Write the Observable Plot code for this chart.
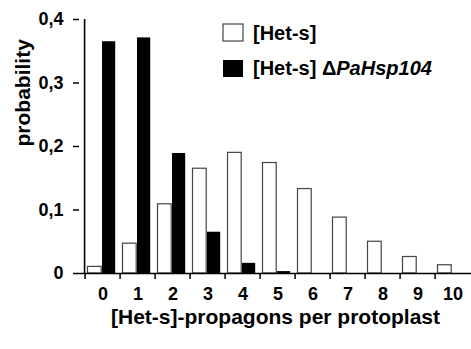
<!DOCTYPE html>
<html>
<head>
<meta charset="utf-8">
<script src="https://cdn.jsdelivr.net/npm/d3@7"></script>
<script src="https://cdn.jsdelivr.net/npm/@observablehq/plot@0.6"></script>
<style>
  html, body { margin: 0; padding: 0; background: white; }
  #chart { position: relative; width: 471px; height: 349px; }
</style>
</head>
<body>
<div id="chart"></div>
<script>
const categories = ["0","1","2","3","4","5","6","7","8","9","10"];
const hetS = [0.0104, 0.047, 0.109, 0.165, 0.190, 0.174, 0.133, 0.088, 0.050, 0.026, 0.013];
const hetSDelta = [0.365, 0.371, 0.189, 0.065, 0.016, 0.003, 0, 0, 0, 0, 0];
const yTicks = [0, 0.1, 0.2, 0.3, 0.4];
const seriesNames = ["[Het-s]", "[Het-s] "];
const xLabel = "[Het-s]-propagons per protoplast";
const yLabel = "probability";

const rows = categories.map((k, i) => ({k, het: hetS[i], del: hetSDelta[i]}));

const W = 471, H = 349;
const x0 = 80, x1 = 474;
const bw = (x1 - x0) / categories.length;
const font = "'Liberation Sans', Arial, sans-serif";

const chart = Plot.plot({
  width: W, height: H,
  marginLeft: 79, marginRight: 0, marginTop: 19, marginBottom: 76,
  style: {fontFamily: font, fontWeight: "bold", fontSize: "18px", color: "black", background: "white", overflow: "visible"},
  x: {type: "band", domain: categories, range: [x0, x1], padding: 0, axis: null},
  y: {domain: [0, 0.4], axis: null},
  marks: [
    Plot.barY(rows, {x: "k", y: "het", fill: "white", stroke: "#444", strokeWidth: 1.2, insetLeft: 2.5, insetRight: 18.8}),
    Plot.barY(rows.filter(d => d.del > 0), {x: "k", y: "del", fill: "black", insetLeft: 17, insetRight: 4.8}),
    Plot.axisY({ticks: yTicks, tickFormat: d => d === 0 ? "0" : d.toFixed(1).replace(".", ","), tickSize: 6, tickPadding: 10, fontSize: 18, label: null, strokeWidth: 1.5}),
    Plot.axisX({tickSize: 6, tickFormat: () => "", dx: -bw / 2, label: null, strokeWidth: 1.5}),
    Plot.axisX({tickSize: 0, tickPadding: 14, fontSize: 18, label: null}),
    Plot.ruleY([0], {strokeWidth: 1.6}),
    Plot.ruleX([categories[0]], {x: d => d, y1: 0, y2: 0.4, dx: -bw / 2 - 0.5, strokeWidth: 1.6}),
    Plot.text([yLabel], {frameAnchor: "left", rotate: -90, dx: -56, fontSize: 21, fontWeight: "bold"}),
    Plot.text([xLabel], {frameAnchor: "bottom", lineAnchor: "middle", dy: 44, fontSize: 21, fontWeight: "bold"})
  ]
});
document.getElementById("chart").appendChild(chart);

// legend
const svg = d3.select(chart);
const lg = svg.append("g").attr("font-family", font).attr("font-weight", "bold").attr("font-size", 20).attr("text-anchor", "start");
lg.append("rect").attr("x", 223).attr("y", 24).attr("width", 20).attr("height", 17)
  .attr("fill", "white").attr("stroke", "#444").attr("stroke-width", 1.2);
lg.append("text").attr("x", 253).attr("y", 32.5).attr("dy", "0.35em").text(seriesNames[0]);
lg.append("rect").attr("x", 223).attr("y", 60).attr("width", 20).attr("height", 17).attr("fill", "black");
const t2 = lg.append("text").attr("x", 253).attr("y", 67.5).attr("dy", "0.35em");
t2.append("tspan").text(seriesNames[1] + "Δ");
t2.append("tspan").attr("font-style", "italic").text("PaHsp104");
</script>
</body>
</html>
